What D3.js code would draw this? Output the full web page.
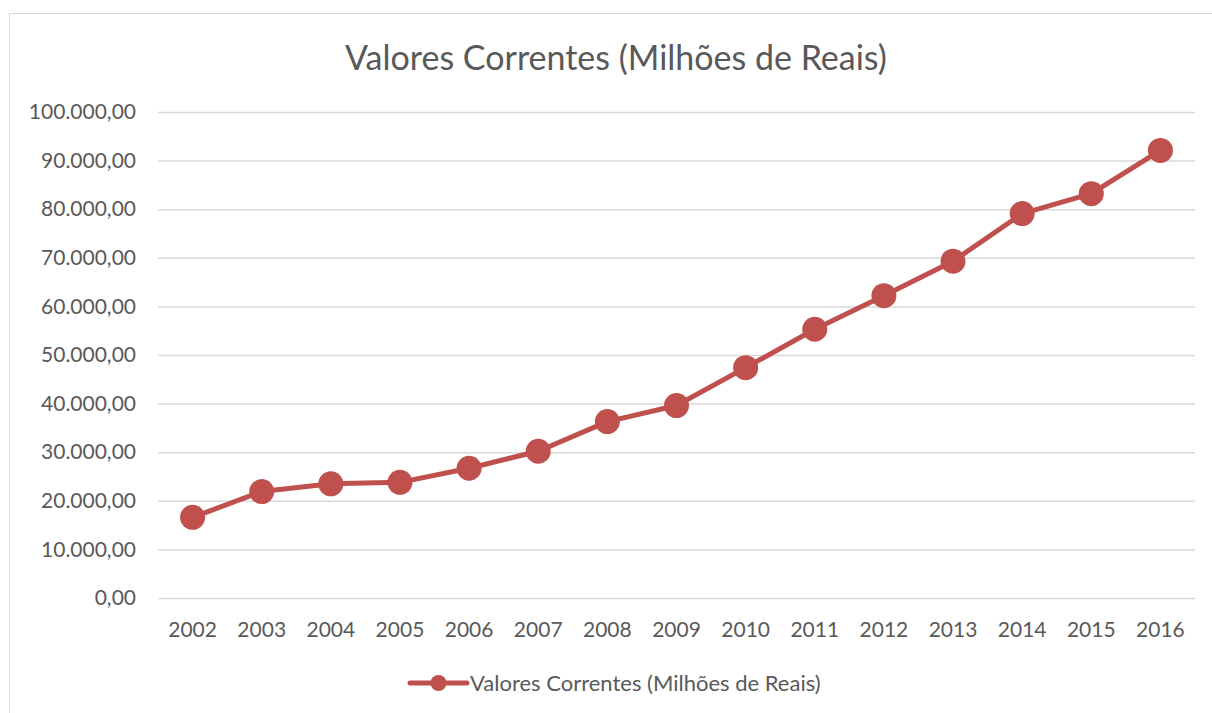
<!DOCTYPE html>
<html>
<head>
<meta charset="utf-8">
<script src="https://cdn.jsdelivr.net/npm/d3@7"></script>
<style>
  body { margin: 0; background: #fff; }
  text { font-family: Lato, "Open Sans", sans-serif; fill: #595959; }
</style>
</head>
<body>
<div id="chart-area"></div>
<script>
// chart data
var years = ["2002","2003","2004","2005","2006","2007","2008","2009","2010","2011","2012","2013","2014","2015","2016"];
var valores = [16600, 21900, 23500, 23800, 26700, 30200, 36300, 39600, 47400, 55300, 62200, 69300, 79100, 83200, 92100];
var yTicks = [0, 10000, 20000, 30000, 40000, 50000, 60000, 70000, 80000, 90000, 100000];
var titulo = "Valores Correntes (Milhões de Reais)";

var width = 1212, height = 713;
var margin = {left: 158, right: 1195, top: 112, bottom: 598};
var cor = "#c0504d";

var svg = d3.select("#chart-area").append("svg")
    .attr("width", width)
    .attr("height", height);

// chart frame
svg.append("rect")
    .attr("x", 9.5).attr("y", 13.5)
    .attr("width", 1220).attr("height", 720)
    .attr("fill", "none")
    .attr("stroke", "#d9d9d9");

var x = d3.scaleBand()
    .domain(years)
    .range([margin.left, margin.right]);

var y = d3.scaleLinear()
    .domain([0, 100000])
    .range([margin.bottom, margin.top]);

var fmt = function(d) {
    return d3.format(",.2f")(d).replace(/,/g, "#").replace(".", ",").replace(/#/g, ".");
};

// y axis with gridlines
var yAxis = svg.append("g")
    .attr("transform", "translate(" + margin.left + ",0)")
    .call(d3.axisLeft(y).tickValues(yTicks).tickFormat(fmt)
        .tickSize(-(margin.right - margin.left)).tickPadding(22));
yAxis.select(".domain").remove();
yAxis.selectAll("line").attr("stroke", "#d9d9d9").attr("stroke-width", 1.5);
yAxis.selectAll("text").style("font-size", "21px").attr("fill", "#595959");

// x axis
var xAxis = svg.append("g")
    .attr("transform", "translate(0," + margin.bottom + ")")
    .call(d3.axisBottom(x).tickSize(0).tickPadding(24));
xAxis.select(".domain").remove();
xAxis.selectAll("text").style("font-size", "21px").attr("fill", "#595959");

// title
svg.append("text")
    .attr("x", 616).attr("y", 70)
    .attr("text-anchor", "middle")
    .style("font-size", "34px")
    .text(titulo);

// line
var line = d3.line()
    .x(function(d, i) { return x(years[i]) + x.bandwidth() / 2; })
    .y(function(d) { return y(d); });

svg.append("path")
    .datum(valores)
    .attr("d", line)
    .attr("fill", "none")
    .attr("stroke", cor)
    .attr("stroke-width", 5)
    .attr("stroke-linejoin", "round");

svg.selectAll("circle.pt")
    .data(valores)
    .enter()
    .append("circle")
        .attr("class", "pt")
        .attr("cx", function(d, i) { return x(years[i]) + x.bandwidth() / 2; })
        .attr("cy", function(d) { return y(d); })
        .attr("r", 12.5)
        .attr("fill", cor);

// legend
var leg = svg.append("g").attr("transform", "translate(410,683)");
leg.append("line")
    .attr("x1", 0).attr("x2", 57).attr("y1", 0).attr("y2", 0)
    .attr("stroke", cor).attr("stroke-width", 5).attr("stroke-linecap", "round");
leg.append("circle").attr("cx", 28.5).attr("cy", 0).attr("r", 8).attr("fill", cor);
leg.append("text")
    .attr("x", 60).attr("y", 8)
    .style("font-size", "22px")
    .text(titulo);
</script>
</body>
</html>
